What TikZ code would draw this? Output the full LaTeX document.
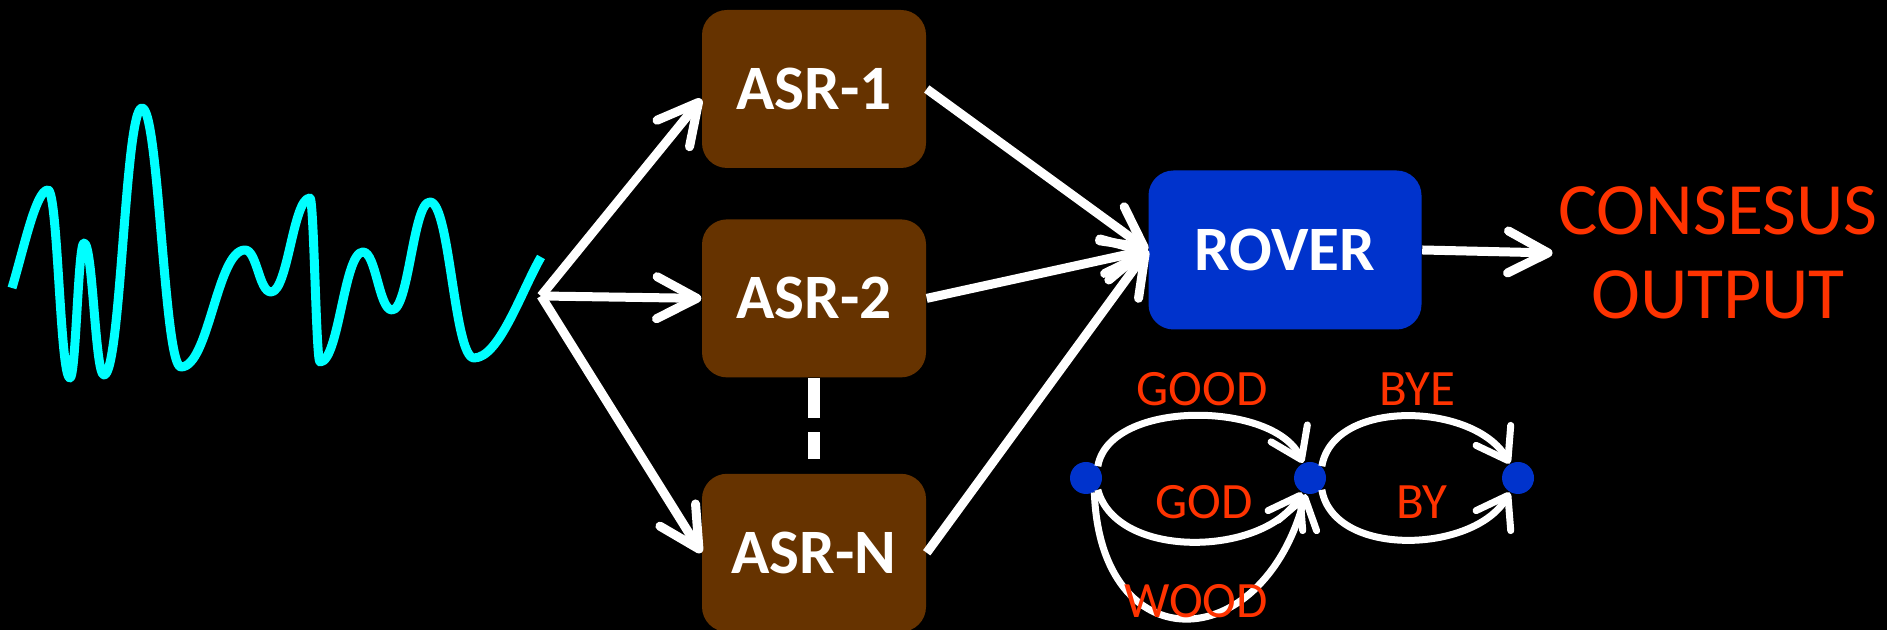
\documentclass[tikz,border=0pt]{standalone}
\usepackage{fontspec}
\setmainfont{Carlito}
\usetikzlibrary{positioning,arrows.meta}

\definecolor{asrbrown}{HTML}{663300}
\definecolor{roverblue}{HTML}{0033CC}
\definecolor{wavecyan}{HTML}{00FFFF}
\definecolor{wordred}{HTML}{FF3300}

\begin{document}
\begin{tikzpicture}[
  x=0.1mm, y=0.1mm,
  asrbox/.style={fill=asrbrown, rounded corners=2.5mm, minimum width=22.4mm, minimum height=15.8mm, text=white, font=\fontsize{18}{20}\selectfont\bfseries},
  roverbox/.style={fill=roverblue, rounded corners=2.5mm, minimum width=27.3mm, minimum height=15.9mm, text=white, font=\fontsize{18}{20}\selectfont\bfseries},
  outtxt/.style={text=wordred, align=center, inner sep=0.5mm, font=\fontsize{21}{24}\selectfont},
  arrow/.style={white, line width=0.9mm, -{Straight Barb[length=4mm,width=4.2mm,round]}},
  latarrow/.style={white, line width=0.7mm, -{Straight Barb[length=2.9mm,width=4mm,round]}},
  state/.style={circle, fill=roverblue, minimum size=3.2mm, inner sep=0pt},
  word/.style={text=wordred, inner sep=0pt, font=\fontsize{14.5}{16}\selectfont},
  wave/.style={wavecyan, line width=0.9mm, line join=round}
]
\path[use as bounding box, fill=black] (0,0) rectangle (1887,630);

% speech signal
\draw[wave] (12,342)
  .. controls +(12,40) and +(-12,0) .. (48,440)
  .. controls +(10,0) and +(-10,0) .. (70,252)
  .. controls +(6,0) and +(-6,0) .. (84,387)
  .. controls +(9,0) and +(-9,0) .. (104,255)
  .. controls +(17,0) and +(-17,0) .. (142,522)
  .. controls +(17,0) and +(-17,0) .. (181,263)
  .. controls +(28,0) and +(-28,0) .. (245,380)
  .. controls +(12,0) and +(-12,0) .. (271,338)
  .. controls +(17,0) and +(-17,0) .. (310,432)
  .. controls +(4,0) and +(-4,0) .. (320,268)
  .. controls +(19,0) and +(-19,0) .. (363,378)
  .. controls +(13,0) and +(-13,0) .. (392,320)
  .. controls +(17,0) and +(-17,0) .. (430,428)
  .. controls +(20,0) and +(-20,0) .. (474,272)
  .. controls +(25,0) and +(-20,-35) .. (541,373);
\coordinate (split) at (541,334);

% recognisers and combination
\node[asrbox] (asr1) at (814,541) {ASR-1};
\node[asrbox, below=5mm of asr1] (asr2) {ASR-2};
\node[asrbox, below=9.5mm of asr2] (asrN) {ASR-N};
\node[roverbox] (rover) at (1285,380) {ROVER};
\node[outtxt] (out) at (1718,377) {CONSESUS\\OUTPUT};

\draw[arrow] (split) -- ([yshift=-1mm]asr1.west);
\draw[arrow] (split) -- (asr2.west);
\draw[arrow] (split) -- (asrN.west);
\foreach \n in {asr1,asr2,asrN}
  \draw[arrow] (\n.east) -- (rover.west);
\draw[arrow] (rover.east) -- (out.west);
\draw[white, line width=1.2mm, dash pattern=on 4mm off 1.4mm, shorten >=1.4mm] (asr2.south) -- (asrN.north);

% word lattice
\node[state] (n1) at (1086,152) {};
\node[state] (n2) at (1310,152) {};
\node[state] (n3) at (1518,152) {};
\draw[latarrow] (n1.45) to[out=80, in=115, looseness=0.85] (n2);
\draw[latarrow] (n1.-45) to[out=-75, in=-120, looseness=0.92] (n2);
\draw[latarrow] (n1.-60) to[out=-88, in=-105, looseness=2.05] (n2);
\draw[latarrow] (n2.45) to[out=80, in=120, looseness=0.95] (n3);
\draw[latarrow] (n2.-45) to[out=-80, in=-120, looseness=0.95] (n3);
\node[word] (good) at (1202,241) {GOOD};
\node[word] (god) at (1204,128) {GOD};
\node[word] (wood) at (1196,29) {WOOD};
\node[word] (bye) at (1417,241) {BYE};
\node[word] (by) at (1422,128) {BY};
\end{tikzpicture}
\end{document}
